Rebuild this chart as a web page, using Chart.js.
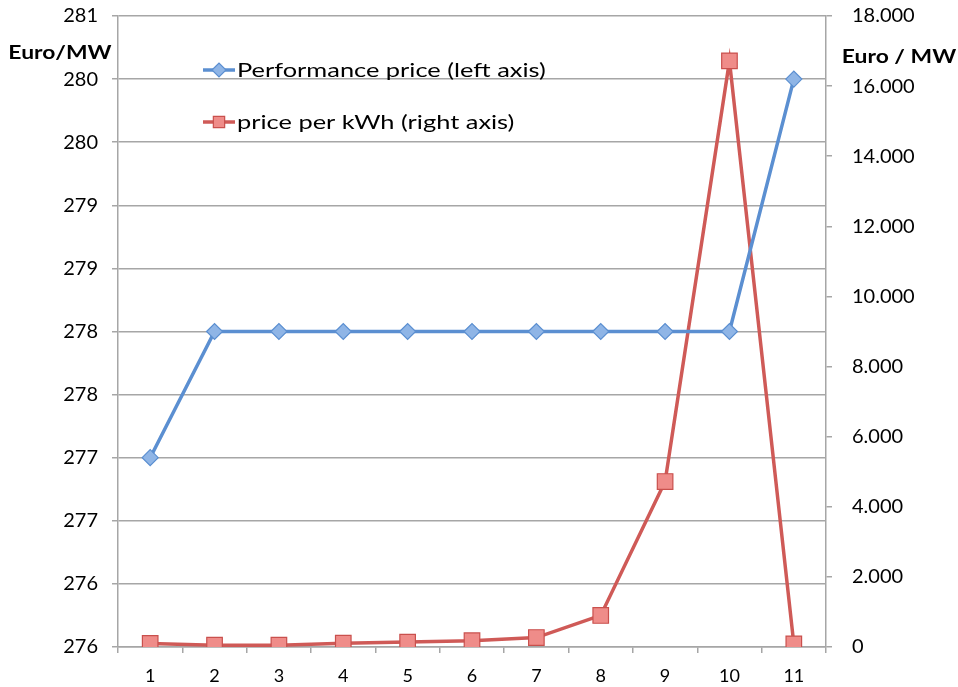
<!DOCTYPE html>
<html>
<head>
<meta charset="utf-8">
<script src="https://cdn.jsdelivr.net/npm/chart.js@4.4.1/dist/chart.umd.min.js"></script>
<style>
  body { margin: 0; background: #fff; }
  #wrap { width: 958px; height: 687px; }
</style>
</head>
<body>
<div id="wrap"><canvas id="chart"></canvas></div>
<script>
const categories = ['1', '2', '3', '4', '5', '6', '7', '8', '9', '10', '11'];
const performancePrice = [277, 278, 278, 278, 278, 278, 278, 278, 278, 278, 280];
const pricePerKwh = [100, 50, 50, 110, 140, 180, 270, 900, 4720, 16720, 90];
const seriesNames = ['Performance price (left axis)', 'price per kWh (right axis)'];
const leftTitle = 'Euro/MW';
const rightTitle = 'Euro / MW';

const FONT = 'Lato, "Open Sans", sans-serif';
const gridGrey = '#a6a6a6';
const stretch = 1.27; // the original text is drawn a bit wide

const fmtDots = v => String(v).replace(/\B(?=(\d{3})+(?!\d))/g, '.');

function wideText(ctx, txt, x, y, align) {
    ctx.save();
    ctx.translate(x, y);
    ctx.scale(stretch, 1);
    ctx.textAlign = align;
    ctx.fillText(txt, 0, 0);
    ctx.restore();
}

// horizontal axis titles above the two value axes + legend inside the plot
const extras = {
    id: 'extras',
    afterDraw(chart) {
        const ctx = chart.ctx;
        const area = chart.chartArea;
        ctx.save();
        ctx.fillStyle = '#000';
        ctx.font = 'bold 18px ' + FONT;
        ctx.textBaseline = 'middle';
        wideText(ctx, leftTitle, 60, 53, 'center');
        wideText(ctx, rightTitle, 899, 57, 'center');

        const lx = area.left + 85, ly = area.top + 54, gap = 52;
        chart.data.datasets.forEach((ds, i) => {
            const y = ly + i * gap;
            ctx.strokeStyle = ds.borderColor;
            ctx.lineWidth = 3.5;
            ctx.beginPath();
            ctx.moveTo(lx, y);
            ctx.lineTo(lx + 32, y);
            ctx.stroke();
            ctx.fillStyle = ds.pointBackgroundColor;
            ctx.strokeStyle = ds.pointBorderColor;
            ctx.lineWidth = 1.2;
            Chart.helpers.drawPoint(ctx, {
                pointStyle: ds.pointStyle,
                radius: i === 0 ? 7 : 8,
                borderWidth: 1.2
            }, lx + 16, y);
            ctx.fillStyle = '#000';
            ctx.font = '20px ' + FONT;
            wideText(ctx, ds.label, lx + 34, y + 1, 'left');
        });
        ctx.restore();
    }
};

const noVPad = s => { s.paddingTop = 0; s.paddingBottom = 0; };

new Chart(document.getElementById('chart'), {
    type: 'line',
    data: {
        labels: categories,
        datasets: [{
            label: seriesNames[0],
            data: performancePrice,
            yAxisID: 'yL',
            borderColor: '#5b8fd1',
            borderWidth: 3.5,
            pointStyle: 'rectRot',
            pointRadius: 8,
            pointBackgroundColor: '#8fb5e6',
            pointBorderColor: '#5b8fd1',
            pointBorderWidth: 1.2
        }, {
            label: seriesNames[1],
            data: pricePerKwh,
            yAxisID: 'yR',
            borderColor: '#cf5a57',
            borderWidth: 3.5,
            pointStyle: 'rect',
            pointRadius: 11,
            pointBackgroundColor: '#ef8c89',
            pointBorderColor: '#c9504d',
            pointBorderWidth: 1.2
        }]
    },
    options: {
        responsive: true,
        maintainAspectRatio: false,
        animation: false,
        layout: { padding: { top: 16 } },
        plugins: {
            legend: { display: false },
            tooltip: { enabled: false }
        },
        scales: {
            x: {
                offset: true,
                grid: { drawOnChartArea: false, tickLength: 6, color: gridGrey, lineWidth: 1.5, offset: true },
                border: { color: gridGrey, width: 1.5 },
                ticks: { color: '#000', font: { family: FONT, size: 18 }, padding: 12 },
                afterFit: s => { s.height = 40; s.paddingLeft = 0; s.paddingRight = 0; }
            },
            yL: {
                position: 'left',
                min: 275.5,
                max: 280.5,
                grid: { color: gridGrey, lineWidth: 1.5, tickLength: 6 },
                border: { color: gridGrey, width: 1.5 },
                ticks: {
                    stepSize: 0.5,
                    color: '#000',
                    font: { family: FONT, size: 20 },
                    padding: 14,
                    callback: v => Math.round(v + 1e-9)
                },
                afterFit: s => { s.width = 118; noVPad(s); }
            },
            yR: {
                position: 'right',
                min: 0,
                max: 18000,
                grid: { drawOnChartArea: false, color: gridGrey, lineWidth: 1.5, tickLength: 6 },
                border: { color: gridGrey, width: 1.5 },
                ticks: {
                    stepSize: 2000,
                    color: '#000',
                    font: { family: FONT, size: 20 },
                    padding: 20,
                    callback: v => fmtDots(v)
                },
                afterFit: s => { s.width = 132; noVPad(s); }
            }
        }
    },
    plugins: [extras]
});
</script>
</body>
</html>
